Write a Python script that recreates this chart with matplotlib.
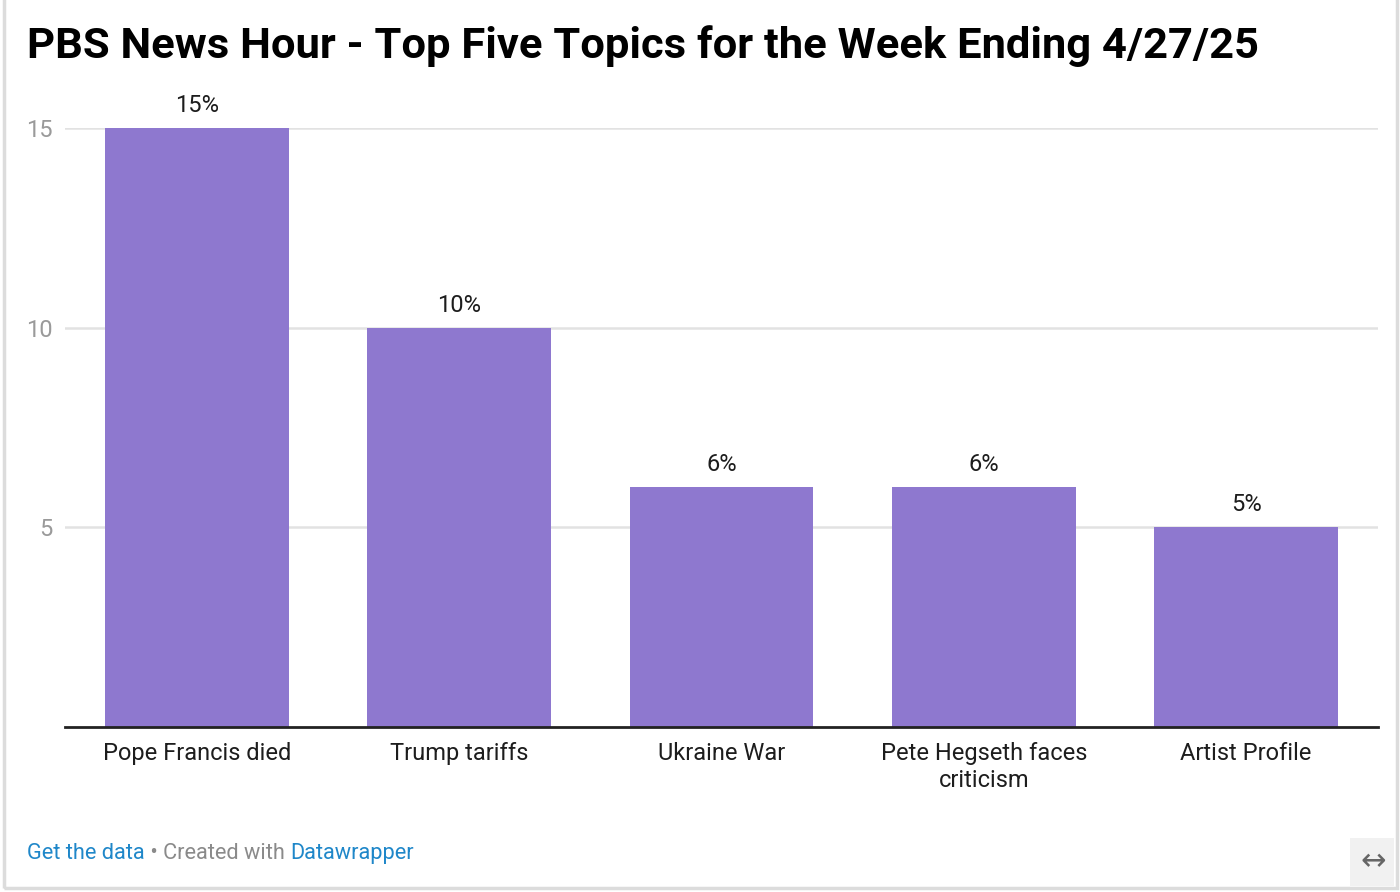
import matplotlib.pyplot as plt
from matplotlib.patches import Rectangle

categories = ["Pope Francis died", "Trump tariffs", "Ukraine War",
              "Pete Hegseth faces\ncriticism", "Artist Profile"]
values = [15, 10, 6, 6, 5]
value_labels = ["15%", "10%", "6%", "6%", "5%"]
yticks = [5, 10, 15]

plt.rcParams['font.family'] = ['Roboto', 'DejaVu Sans']

W, H = 1400, 892
fig = plt.figure(figsize=(W / 100, H / 100), dpi=100)
fig.patch.set_facecolor('white')

# outer light frame
fig.add_artist(Rectangle((4 / W, 4 / H), (1397 - 4) / W, 1.2, transform=fig.transFigure,
                         fill=False, edgecolor='#dcdcdc', linewidth=2.5))

ax = fig.add_axes([65 / W, (H - 727) / H, (1378 - 65) / W, (727 - 128) / H])
x = list(range(len(categories)))
ax.bar(x, values, width=0.70, color='#8e78cf', zorder=2)
ax.set_xlim(-0.503, 4.503)
ax.set_ylim(0, 15)

for xi, v, lab in zip(x, values, value_labels):
    ax.annotate(lab, (xi, v), xytext=(0, 8), textcoords='offset points',
                ha='center', va='bottom', fontsize=17, color='#1d1d1d',
                annotation_clip=False)

ax.set_yticks(yticks)
ax.set_yticklabels([str(t) for t in yticks])
ax.yaxis.grid(True, color='#e2e2e2', linewidth=1.8, zorder=0)
ax.tick_params(axis='y', length=0, pad=9, labelsize=17, labelcolor='#9a9a9a')
ax.set_xticks(x)
ax.set_xticklabels(categories, linespacing=1.26)
ax.tick_params(axis='x', length=0, pad=10.5, labelsize=17, labelcolor='#1d1d1d')
for s in ['top', 'right', 'left']:
    ax.spines[s].set_visible(False)
ax.spines['bottom'].set_color('#222222')
ax.spines['bottom'].set_linewidth(2)
ax.spines['bottom'].set_zorder(3)

fig.text(27 / W, 1 - 46 / H, "PBS News Hour - Top Five Topics for the Week Ending 4/27/25",
         fontsize=31.3, fontweight='bold', color='#000000', va='center', ha='left')

# footer
fig.canvas.draw()
r = fig.canvas.get_renderer()
xpos = 27
parts = [("Get the data", '#1f87c9'), (" \u2022 Created with ", '#8a8a8a'), ("Datawrapper", '#1f87c9')]
for txt, col in parts:
    t = fig.text(xpos / W, 1 - 853.5 / H, txt, fontsize=15.7, color=col, va='center', ha='left')
    bb = t.get_window_extent(renderer=r)
    xpos += bb.width

# resize icon
fig.add_artist(Rectangle((1350 / W, (H - 886) / H), 44 / W, 48 / H, transform=fig.transFigure,
                         facecolor='#f1f1f1', edgecolor='none'))
fig.text(1373 / W, 1 - 862 / H, "\u2194", fontsize=22, color='#666666',
         ha='center', va='center', family=['DejaVu Sans'])

fig.savefig('out.png', dpi=100, facecolor='white')
